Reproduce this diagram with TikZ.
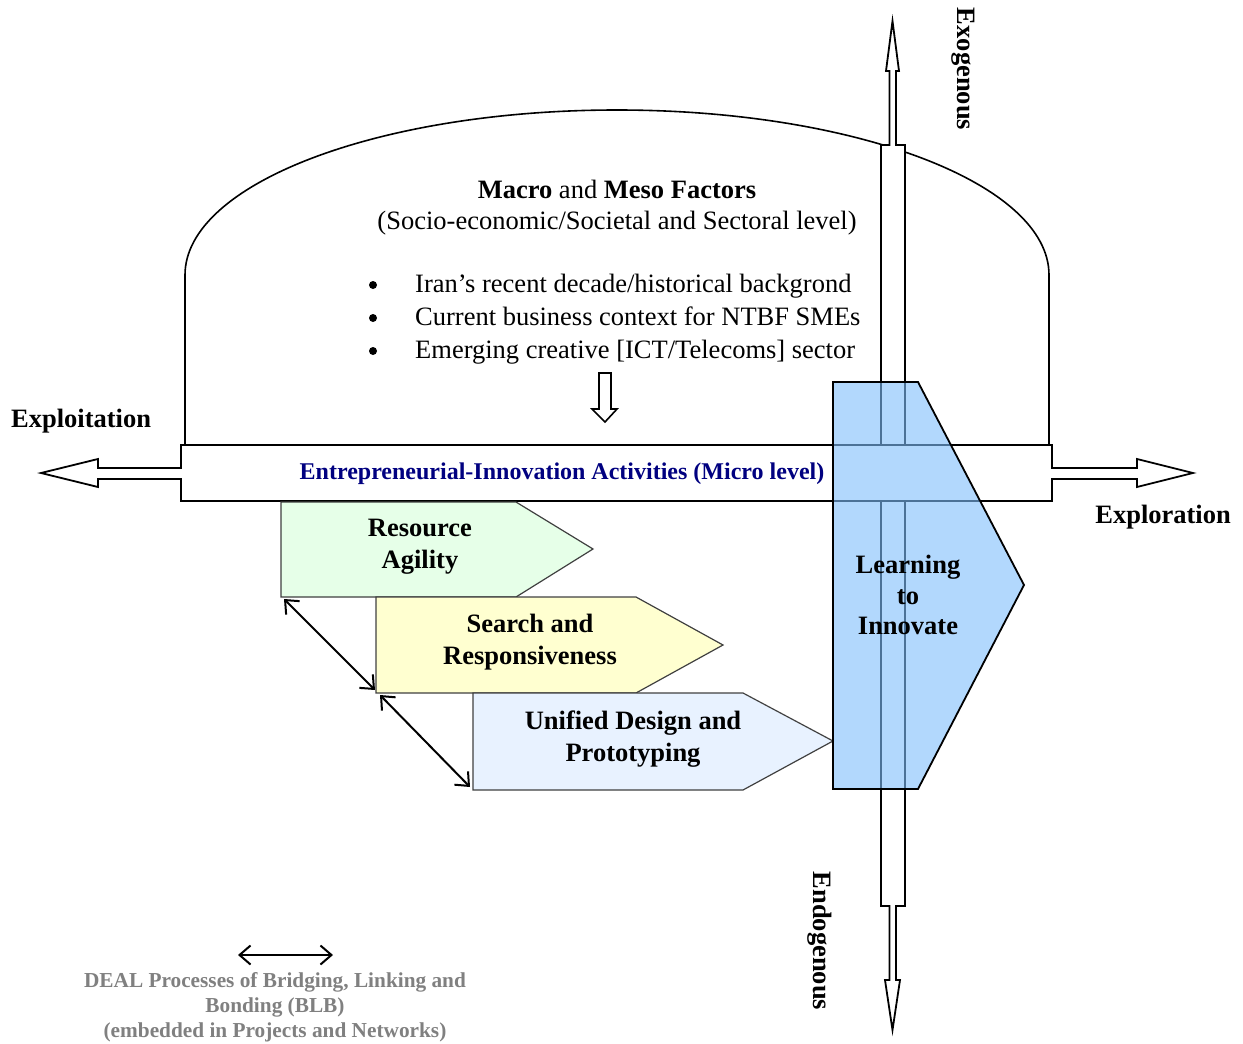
\documentclass[tikz,border=0pt]{standalone}
\usepackage{fontspec}
\setmainfont{Liberation Serif}
\usetikzlibrary{arrows.meta}
\definecolor{navytext}{RGB}{0,0,128}
\definecolor{legendgray}{RGB}{128,128,128}
\definecolor{agilefill}{RGB}{230,255,232}
\definecolor{searchfill}{RGB}{255,255,208}
\definecolor{designfill}{RGB}{232,242,255}
\definecolor{learnfill}{RGB}{127,190,252}
\tikzset{
  outline/.style={draw=black, line width=1.8pt, line join=miter},
  chevron/.style={draw=black!75, line width=1.2pt},
  maintext/.style={font=\fontsize{26.5}{33}\selectfont, align=center, text height=19pt, text depth=6pt},
  boldlabel/.style={font=\fontsize{26.5}{32}\selectfont\bfseries, align=center},
  legendtext/.style={font=\fontsize{21.3}{25}\selectfont\bfseries, text=legendgray, align=center},
  dot/.style={circle, fill=black, inner sep=0pt, minimum size=8pt},
  blb/.style={line width=2pt, {Straight Barb[length=11pt,width=19pt]}-{Straight Barb[length=11pt,width=19pt]}},
}
\begin{document}
\begin{tikzpicture}[x=1pt,y=-1pt]
\useasboundingbox (0,0) rectangle (1243,1044);

% macro/meso dome
\draw[line width=1.6pt] (185,445) -- (185,275)
  arc[start angle=180,end angle=360,x radius=432,y radius=165] -- (1049,445);

% exogenous / endogenous axis
\draw[outline, fill=white] (881,906) -- (881,145) -- (889.5,145) -- (889.5,71) -- (886,71)
  -- (892.5,21) -- (899,71) -- (896,71) -- (896,145) -- (905,145) -- (905,906)
  -- (896,906) -- (896,980) -- (900,980) -- (892.5,1030) -- (885,980) -- (889.5,980)
  -- (889.5,906) -- cycle;

% exploitation / exploration axis
\draw[outline, fill=white] (181,445) -- (1052,445) -- (1052,468) -- (1137,468) -- (1137,459)
  -- (1193,473) -- (1137,487) -- (1137,479) -- (1052,479) -- (1052,501) -- (181,501)
  -- (181,479) -- (98,479) -- (98,487) -- (41,473) -- (98,459) -- (98,468) -- (181,468) -- cycle;

% down arrow from the macro factors
\draw[line width=1.6pt, fill=white] (599,373) -- (611,373) -- (611,409) -- (617,409)
  -- (605,422) -- (592,409) -- (599,409) -- cycle;

% DEAL capability chevrons
\draw[chevron, fill=agilefill] (281,502) -- (516,502) -- (593,549) -- (516,597) -- (281,597) -- cycle;
\draw[chevron, fill=searchfill] (376,597) -- (636,597) -- (723,645) -- (636,693) -- (376,693) -- cycle;
\draw[chevron, fill=designfill] (473,693) -- (743,693) -- (833,741) -- (743,790) -- (473,790) -- cycle;

% learning to innovate
\draw[outline, fill=learnfill, fill opacity=0.6] (833,382) -- (918,382) -- (1024,585)
  -- (918,789) -- (833,789) -- cycle;

% named anchors for the bridging arrows
\coordinate (ra) at (284,599);
\coordinate (sr1) at (375,690);
\coordinate (sr2) at (380,695);
\coordinate (ud) at (470,787);
\coordinate (lgL) at (238,955);
\coordinate (lgR) at (333,955);
\draw[blb] (ra) -- (sr1);
\draw[blb] (sr2) -- (ud);
\draw[blb] (lgL) -- (lgR);

% texts
\node[maintext] (title) at (617,192) {\textbf{Macro} and \textbf{Meso Factors}};
\node[maintext] (sub) at (617,223) {(Socio-economic/Societal and Sectoral level)};
\node[dot] (d1) at (373,285) {};
\node[dot] (d2) at (373,318) {};
\node[dot] (d3) at (373,351) {};
\node[maintext, anchor=west, inner sep=0pt] (b1) at (415,286) {Iran’s recent decade/historical backgrond};
\node[maintext, anchor=west, inner sep=0pt] (b2) at (415,319) {Current business context for NTBF SMEs};
\node[maintext, anchor=west, inner sep=0pt] (b3) at (415,352) {Emerging creative [ICT/Telecoms] sector};

\node[font=\fontsize{24}{28}\selectfont\bfseries, text=navytext] (micro) at (562,474)
  {Entrepreneurial-Innovation Activities (Micro level)};

\node[boldlabel, anchor=west, inner sep=0pt] (exploit) at (11,421) {Exploitation};
\node[boldlabel, anchor=east, inner sep=0pt] (explore) at (1231,517) {Exploration};
\node[boldlabel, rotate=-90] (exo) at (963,69) {Exogenous};
\node[boldlabel, rotate=-90] (endo) at (820,941) {Endogenous};

\node[boldlabel] (agility) at (420,547) {Resource\\Agility};
\node[boldlabel] (search) at (530,642) {Search and\\Responsiveness};
\node[boldlabel] (design) at (633,739) {Unified Design and\\Prototyping};
\node[boldlabel, font=\fontsize{26.5}{30.5}\selectfont\bfseries] (learn) at (908,595) {Learning\\to\\Innovate};

\node[legendtext] (legend) at (275,1007) {DEAL Processes of Bridging, Linking and\\Bonding (BLB)\\(embedded in Projects and Networks)};
\end{tikzpicture}
\end{document}
